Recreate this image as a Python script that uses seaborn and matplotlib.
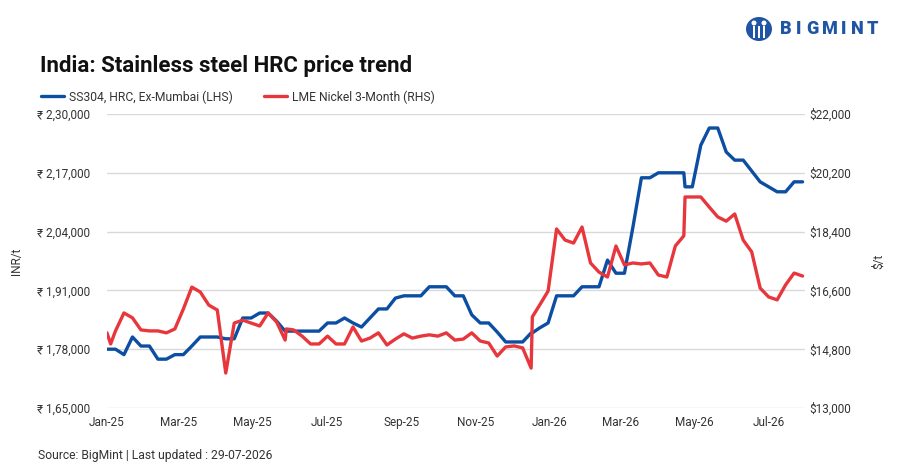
import pandas as pd
import matplotlib.pyplot as plt
import matplotlib.dates as mdates
import matplotlib.patches as mpatches
from matplotlib.lines import Line2D
import seaborn as sns

# Weekly quotes (Wednesdays, 1 Jan 2025 - 29 Jul 2026)
ss304_inr = [
    178000, 178000, 176800, 180700, 178700, 178700, 175800, 175800, 176800, 176800,
    178700, 180700, 180700, 180700, 180300, 180300, 184900, 184900, 186000, 186000,
    184200, 182000, 182000, 182000, 182000, 182000, 183800, 183800, 184900, 183800,
    182900, 184900, 186900, 186900, 189300, 189800, 189800, 189800, 191800, 191800,
    191800, 189800, 189800, 185600, 183800, 183800, 181800, 179600, 179600, 179600,
    181600, 182700, 183800, 189800, 189800, 189800, 191800, 191800, 191800, 197700,
    194800, 194800, 205000, 215900, 215900, 217000, 217000, 217000, 217000, 213900,
    223100, 226900, 226900, 221600, 219800, 219800, 217400, 215000, 213900, 212800,
    212800, 215000, 215000,
]
lme_usd = [
    15300, 15360, 15910, 15760, 15390, 15360, 15360, 15300, 15420, 16030,
    16700, 16550, 16150, 16000, 14070, 15600, 15690, 15600, 15510, 15910,
    15630, 15080, 15390, 15200, 14960, 14960, 15200, 14960, 14960, 15480,
    15050, 15140, 15300, 14930, 15110, 15270, 15140, 15200, 15240, 15200,
    15300, 15080, 15110, 15300, 15050, 14990, 14590, 14870, 14900, 14840,
    14220, 16150, 16580, 18480, 18140, 18050, 18540, 17440, 17160, 17010,
    17960, 17380, 17440, 17410, 17440, 17070, 17010, 17960, 18270, 19460,
    19460, 19150, 18850, 18720, 18940, 18140, 17780, 16670, 16400, 16310,
    16770, 17130, 17040,
]

# a few extra mid-week quotes
extra_dates = ["2025-01-04", "2025-05-29", "2025-12-18", "2026-04-23"]
extra_ss304 = [178000, 182000, 181600, 213900]
extra_lme = [14960, 15420, 15790, 19460]

left_ticks = [165000, 178000, 191000, 204000, 217000, 230000]
left_labels = ["₹ 1,65,000", "₹ 1,78,000", "₹ 1,91,000", "₹ 2,04,000", "₹ 2,17,000", "₹ 2,30,000"]
right_ticks = [13000, 14800, 16600, 18400, 20200, 22000]
right_labels = ["$13,000", "$14,800", "$16,600", "$18,400", "$20,200", "$22,000"]

weekly = pd.DataFrame({
    "date": pd.date_range("2025-01-01", periods=len(ss304_inr), freq="7D"),
    "ss304": ss304_inr,
    "lme": lme_usd,
})
extra = pd.DataFrame({"date": pd.to_datetime(extra_dates), "ss304": extra_ss304, "lme": extra_lme})
df = pd.concat([weekly, extra]).sort_values("date").reset_index(drop=True)

sns.set_theme(style="white")
plt.rcParams["font.family"] = ["Roboto", "DejaVu Sans"]

BLUE = "#0b4ea2"
RED = "#e8373c"
TXT = "#333333"
LOGO = "#1f55a4"

fig = plt.figure(figsize=(8.97, 4.70), dpi=100)
ax = fig.add_axes([107 / 897, 1 - 408 / 470, (805 - 107) / 897, (408 - 114) / 470])
ax2 = ax.twinx()

sns.lineplot(data=df, x="date", y="ss304", ax=ax, color=BLUE, lw=2.4,
             estimator=None, sort=False, zorder=3)
sns.lineplot(data=df, x="date", y="lme", ax=ax2, color=RED, lw=2.4,
             estimator=None, sort=False, zorder=3)

ax.set_xlim(pd.Timestamp("2025-01-01"), pd.Timestamp("2026-07-31"))
ax.set_ylim(165000, 230000)
ax2.set_ylim(13000, 22000)
ax.set_yticks(left_ticks, left_labels)
ax2.set_yticks(right_ticks, right_labels)
ax.xaxis.set_major_locator(mdates.MonthLocator(bymonth=[1, 3, 5, 7, 9, 11]))
ax.xaxis.set_major_formatter(mdates.DateFormatter("%b-%y"))

ax.grid(axis="y", color="#d9d9d9", lw=1)
ax.grid(axis="x", visible=False)
ax2.grid(False)
for a in (ax, ax2):
    for s in a.spines.values():
        s.set_visible(False)
    a.tick_params(length=0, labelsize=8.5, colors=TXT)
ax.tick_params(axis="y", pad=12)
ax2.tick_params(axis="y", pad=3)
ax.tick_params(axis="x", pad=6)

ax.set_xlabel("")
ax.set_ylabel("INR/t", fontsize=8.5, color=TXT)
ax2.set_ylabel("$/t", fontsize=8.5, color=TXT)
ax.yaxis.set_label_coords(-0.12, 0.5)
ax2.yaxis.set_label_coords(1.096, 0.5)

fig.text(40 / 897, 1 - 66 / 470, "India: Stainless steel HRC price trend",
         fontsize=16, fontweight="bold", color="#111111", va="center")

handles = [Line2D([], [], color=BLUE, lw=2.4), Line2D([], [], color=RED, lw=2.4)]
fig.legend(handles, ["SS304, HRC, Ex-Mumbai (LHS)", "LME Nickel 3-Month (RHS)"],
           loc="center left", bbox_to_anchor=(30 / 897, 1 - 97 / 470), ncol=2,
           frameon=False, fontsize=8.7, handlelength=1.9, handletextpad=0.4,
           columnspacing=2.6, labelcolor=TXT)

fig.text(38 / 897, 1 - 455 / 470, "Source: BigMint | Last updated : 29-07-2026",
         fontsize=8.7, color=TXT, va="center")

# logo: round badge + spaced lettering
cx, cy = 759 / 897, 1 - 29 / 470
fig.add_artist(mpatches.Ellipse((cx, cy), 26 / 897, 24 / 470, transform=fig.transFigure,
                                fc=LOGO, ec="none"))
for dx in (-5, 0, 5):
    fig.add_artist(mpatches.Rectangle((cx + (dx - 1.2) / 897, cy - 9 / 470), 2.4 / 897, 12 / 470,
                                      transform=fig.transFigure, fc="white", ec="none"))
for dx in (-5, 5):
    fig.add_artist(mpatches.Ellipse((cx + dx / 897, cy + 6 / 470), 5 / 897, 5 / 470,
                                    transform=fig.transFigure, fc="white", ec="none"))
for i, ch in enumerate("BIGMINT"):
    xs = [780, 796, 806, 822, 841, 851, 867][i]
    fig.text(xs / 897, cy, ch, fontsize=13, fontweight="black", color=LOGO, va="center")

fig.savefig("out.png", dpi=100)
